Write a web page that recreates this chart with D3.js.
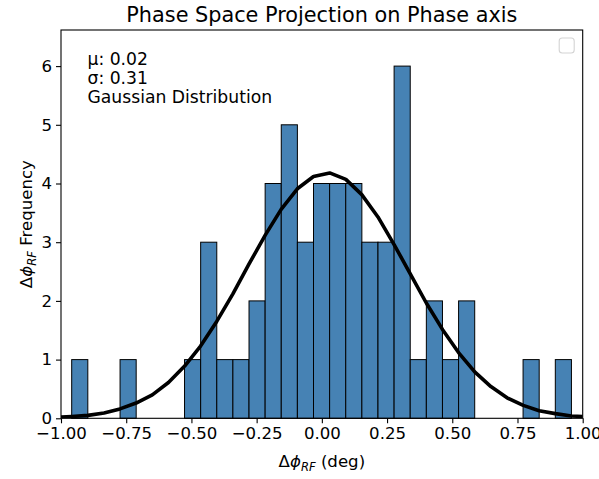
<!DOCTYPE html>
<html>
<head>
<meta charset="utf-8">
<script src="https://cdn.jsdelivr.net/npm/d3@7"></script>
<style>
  html, body { margin: 0; padding: 0; background: #ffffff; }
  svg { display: block; font-family: "DejaVu Sans", sans-serif; }
</style>
</head>
<body>
<svg id="chart" width="599" height="479"></svg>
<script>
// Histogram of phase offsets (deg)
const binStart = -0.959;
const binWidth = 0.0618;
const counts = [1, 0, 0, 1, 0, 0, 0, 1, 3, 1, 1, 2, 4, 5, 3, 4, 4, 4, 3, 3, 6, 1, 2, 1, 2, 0, 0, 0, 1, 0, 1];

// Gaussian fit curve (scaled to bin counts)
const fitX = [-1.0, -0.959, -0.897, -0.835, -0.774, -0.712, -0.650, -0.588, -0.526, -0.465,
              -0.403, -0.341, -0.279, -0.217, -0.156, -0.094, -0.032, 0.030, 0.092, 0.153,
              0.215, 0.277, 0.339, 0.401, 0.463, 0.524, 0.586, 0.648, 0.710, 0.772,
              0.833, 0.895, 0.957, 1.0];
const fitY = [0.02, 0.03, 0.05, 0.09, 0.16, 0.26, 0.40, 0.61, 0.89, 1.23,
              1.65, 2.12, 2.63, 3.12, 3.56, 3.91, 4.12, 4.18, 4.07, 3.81,
              3.43, 2.96, 2.46, 1.96, 1.51, 1.12, 0.79, 0.54, 0.35, 0.22,
              0.13, 0.08, 0.04, 0.03];

const fitMu = 0.02;
const fitSigma = 0.31;

const xTicks = [-1.0, -0.75, -0.5, -0.25, 0.0, 0.25, 0.5, 0.75, 1.0];
const yTicks = [0, 1, 2, 3, 4, 5, 6];

const titleText = "Phase Space Projection on Phase axis";

const svg = d3.select("#chart");
const margin = { left: 61, right: 16.3, top: 30, bottom: 60.7 };
const W = 599, H = 479;
const plotW = W - margin.left - margin.right;
const plotH = H - margin.top - margin.bottom;

const x = d3.scaleLinear().domain([-1, 1]).range([0, plotW]);
const y = d3.scaleLinear().domain([0, 6.615]).range([plotH, 0]);

const g = svg.append("g").attr("transform", `translate(${margin.left},${margin.top})`);

const clip = svg.append("defs").append("clipPath").attr("id", "plotclip")
  .append("rect").attr("x", 0).attr("y", -2).attr("width", plotW).attr("height", plotH + 2);

// Bars
const bins = counts.map((c, i) => ({ x0: binStart + i * binWidth, x1: binStart + (i + 1) * binWidth, n: c }))
  .filter(d => d.n > 0);

g.append("g").selectAll("rect").data(bins).join("rect")
  .attr("x", d => x(d.x0))
  .attr("y", d => y(d.n))
  .attr("width", d => x(d.x1) - x(d.x0))
  .attr("height", d => y(0) - y(d.n))
  .attr("fill", "#4682b4")
  .attr("stroke", "#000000")
  .attr("stroke-width", 1);

// Fit curve
const line = d3.line().x((d, i) => x(fitX[i])).y(d => y(d));
g.append("path")
  .datum(fitY)
  .attr("clip-path", "url(#plotclip)")
  .attr("d", line)
  .attr("fill", "none")
  .attr("stroke", "#000000")
  .attr("stroke-width", 3.6)
  .attr("stroke-linejoin", "round")
  .attr("stroke-linecap", "butt");

// Axes
const fmtX = d => (d < 0 ? "\u2212" : "") + Math.abs(d).toFixed(2);
const xAxis = d3.axisBottom(x).tickValues(xTicks).tickFormat(fmtX).tickSize(5).tickPadding(4);
const yAxis = d3.axisLeft(y).tickValues(yTicks).tickFormat(d3.format("d")).tickSize(5).tickPadding(4);

const gx = g.append("g").attr("transform", `translate(0,${plotH})`).call(xAxis);
const gy = g.append("g").call(yAxis);
[gx, gy].forEach(a => {
  a.select(".domain").remove();
  a.selectAll(".tick line").attr("stroke", "#000").attr("stroke-width", 1.1);
  a.selectAll(".tick text").attr("fill", "#000")
    .style("font-family", "'DejaVu Sans', sans-serif").style("font-size", "16.6px");
});

// Frame
g.append("rect").attr("x", 0).attr("y", 0).attr("width", plotW).attr("height", plotH)
  .attr("fill", "none").attr("stroke", "#000").attr("stroke-width", 1.1);

// Title
svg.append("text")
  .attr("x", margin.left + plotW / 2).attr("y", 22)
  .attr("text-anchor", "middle")
  .style("font-size", "20.8px")
  .attr("fill", "#000")
  .text(titleText);

// Stats annotation
const ann = g.append("text").attr("fill", "#000").style("font-size", "17.2px");
const annLines = [`\u03bc: ${fitMu.toFixed(2)}`, `\u03c3: ${fitSigma.toFixed(2)}`, "Gaussian Distribution"];
ann.selectAll("tspan").data(annLines).join("tspan")
  .attr("x", 26.5)
  .attr("y", (d, i) => 35 + i * 19.2)
  .text(d => d);

// Empty legend box
g.append("rect")
  .attr("x", plotW - 23.5).attr("y", 8).attr("width", 15).attr("height", 15)
  .attr("rx", 3).attr("fill", "#ffffff").attr("stroke", "#d4d4d4").attr("stroke-width", 1.1);

// Axis labels with math-style subscripts
function mathLabel(sel, rest) {
  sel.append("tspan").text("\u0394");
  sel.append("tspan").style("font-style", "italic").text("\u03d5");
  sel.append("tspan").style("font-style", "italic").style("font-size", "11.6px")
    .attr("dy", 3.5).text("RF");
  sel.append("tspan").attr("dy", -3.5).text(rest);
}

const xl = svg.append("text")
  .attr("x", margin.left + plotW / 2).attr("y", 467)
  .attr("text-anchor", "middle")
  .style("font-size", "16.6px")
  .attr("fill", "#000");
mathLabel(xl, "\u00a0(deg)");

const yl = svg.append("text")
  .attr("transform", `translate(32,${margin.top + plotH / 2}) rotate(-90)`)
  .attr("text-anchor", "middle")
  .style("font-size", "16.6px")
  .attr("fill", "#000");
mathLabel(yl, "\u00a0Frequency");
</script>
</body>
</html>
